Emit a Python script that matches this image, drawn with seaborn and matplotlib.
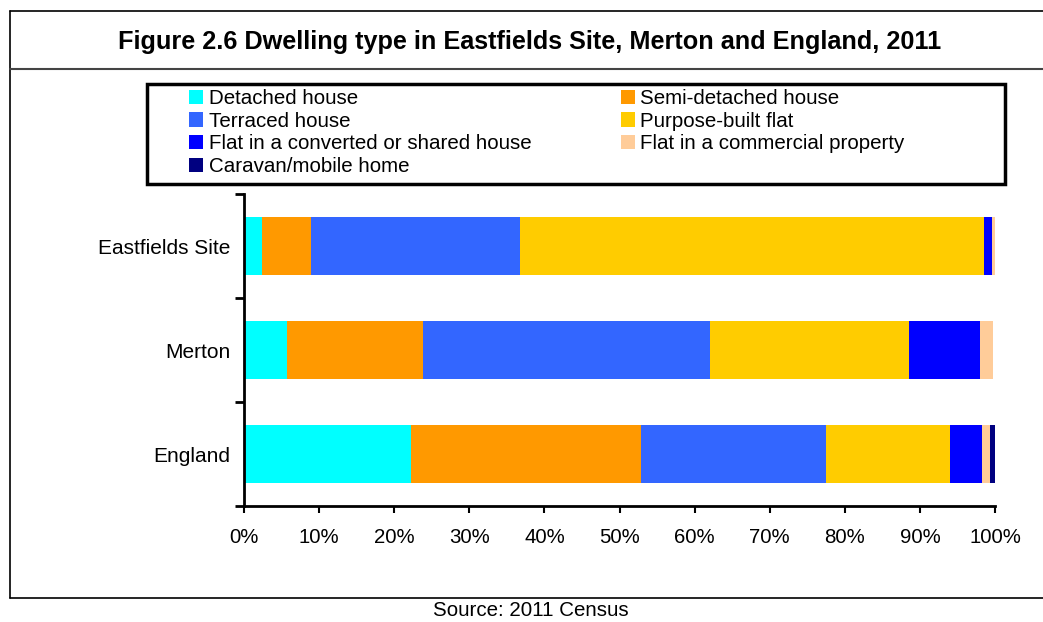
import numpy as np
import pandas as pd
import seaborn as sns
import matplotlib.pyplot as plt
from matplotlib.patches import Patch, Rectangle
from matplotlib.lines import Line2D

areas = ["Eastfields Site", "Merton", "England"]
types = ["Detached house", "Semi-detached house", "Terraced house", "Purpose-built flat",
         "Flat in a converted or shared house", "Flat in a commercial property",
         "Caravan/mobile home"]
detached = [2.4, 5.7, 22.2]
semi = [6.5, 18.2, 30.7]
terraced = [27.8, 38.2, 24.6]
purpose_built = [61.9, 26.4, 16.5]
converted = [1.0, 9.5, 4.3]
commercial = [0.4, 1.7, 1.1]
caravan = [0.0, 0.0, 0.6]
colours = ["#00FFFF", "#FF9900", "#3366FF", "#FFCC00", "#0000FF", "#FFCC99", "#000080"]

sns.set_style("white", {"text.color": "black", "xtick.color": "black", "ytick.color": "black"})
plt.rcParams['font.family'] = ['Liberation Sans', 'DejaVu Sans']

W, H = 1043, 622
fig = plt.figure(figsize=(W / 100, H / 100), dpi=100)

def fx(x):
    return x / W

def fy(y):
    return 1 - y / H

ax = fig.add_axes([fx(244), fy(506), fx(995) - fx(244), fy(194) - fy(506)])

series = [detached, semi, terraced, purpose_built, converted, commercial, caravan]
cum = np.cumsum(np.array(series), axis=0)
df = pd.DataFrame({"area": areas})
# stacked bars: draw the cumulative totals from the outermost segment inwards
for i in range(len(types) - 1, -1, -1):
    df["value"] = cum[i]
    sns.barplot(data=df, x="value", y="area", order=areas, color=colours[i],
                orient="h", width=0.56, saturation=1, ax=ax, edgecolor="none")

ax.set_xlim(0, 100)
ax.set_ylim(2.5, -0.5)
ax.set_xticks(np.arange(0, 101, 10))
ax.set_xticklabels([f"{v}%" for v in range(0, 101, 10)], fontsize=14.7)
ax.set_yticks([0, 1, 2])
ax.set_yticklabels(areas, fontsize=15)
ax.set_xlabel("")
ax.set_ylabel("")
ax.tick_params(axis="y", length=0, pad=10, labelcolor="black")
ax.tick_params(axis="x", length=5, width=1.5, color="black", direction="out", pad=11,
               bottom=True, labelcolor="black")
for yb in [-0.5, 0.5, 1.5, 2.5]:
    ax.plot([-0.012, 0], [yb, yb], transform=ax.get_yaxis_transform(), color="black",
            lw=2, clip_on=False, solid_capstyle="butt")
for side in ["top", "right"]:
    ax.spines[side].set_visible(False)
for side in ["left", "bottom"]:
    ax.spines[side].set_color("black")
    ax.spines[side].set_linewidth(2)

# outer frame and title band
fig.add_artist(Line2D([fx(10), 1.0], [fy(11), fy(11)], color="black", lw=1.2))
fig.add_artist(Line2D([fx(10), fx(10)], [fy(11), fy(598)], color="black", lw=1.2))
fig.add_artist(Line2D([fx(10), 1.0], [fy(598), fy(598)], color="black", lw=1.2))
fig.add_artist(Line2D([fx(10), 1.0], [fy(69), fy(69)], color="#444444", lw=1.5))
fig.text(fx(530), fy(42), "Figure 2.6 Dwelling type in Eastfields Site, Merton and England, 2011",
         ha="center", va="center", fontsize=18.2, fontweight="bold", color="black")
fig.text(fx(531), fy(611), "Source: 2011 Census", ha="center", va="center", fontsize=14.8,
         color="black")

# legend
fig.add_artist(Rectangle((fx(147), fy(184)), fx(1005) - fx(147), fy(84) - fy(184),
                         fill=False, edgecolor="black", lw=2.5, transform=fig.transFigure))
order = [0, 2, 4, 6, 1, 3, 5]
handles = [Patch(facecolor=colours[i], edgecolor="none") for i in order]
labels = [types[i] for i in order]
fig.legend(handles, labels, loc="upper left", bbox_to_anchor=(fx(189), fy(89)), ncol=2,
           frameon=False, fontsize=14.8, handlelength=0.7, handleheight=0.7,
           handletextpad=0.25, labelspacing=0.18, columnspacing=4.35, borderpad=0,
           borderaxespad=0, labelcolor="black")

fig.savefig("out.png", dpi=100)
